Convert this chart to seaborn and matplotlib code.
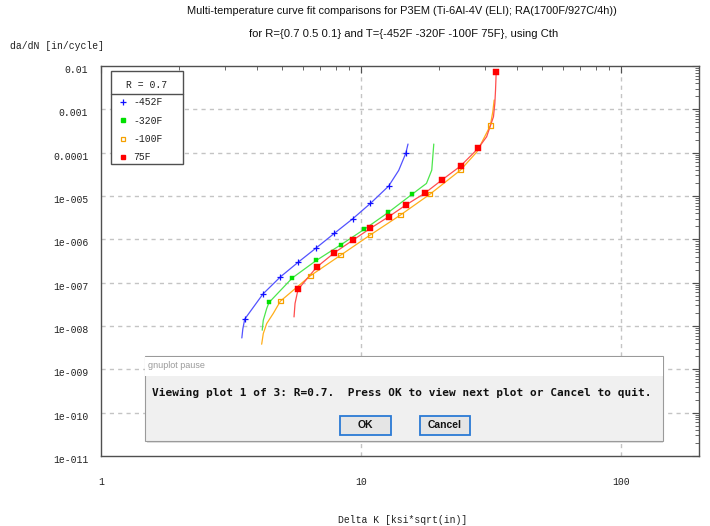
import numpy as np
import pandas as pd
import seaborn as sns
import matplotlib.pyplot as plt
from matplotlib.ticker import LogLocator, NullFormatter, FixedLocator, FixedFormatter
from matplotlib.patches import Rectangle
from matplotlib.lines import Line2D
from matplotlib.transforms import ScaledTranslation

sns.set_theme(style="white")
plt.rcParams['font.family'] = ['Liberation Sans', 'DejaVu Sans']

# --- data: curve fit lines (delta K, da/dN) ---
m452_line_x = [3.49, 3.52, 3.58, 4.21, 4.91, 5.75, 6.75, 7.91, 9.31, 10.9, 12.8, 14.0, 14.9, 15.2]
m452_line_y = [5.3e-9, 8.5e-9, 1.44e-8, 5.5e-8, 1.36e-7, 2.97e-7, 6.37e-7, 1.37e-6, 2.97e-6, 6.75e-6, 1.69e-5, 3.9e-5, 9.6e-5, 1.58e-4]
m320_line_x = [4.18, 4.22, 4.35, 4.44, 5.46, 6.75, 8.38, 10.3, 12.77, 15.8, 17.9, 18.76, 19.1]
m320_line_y = [8.0e-9, 1.36e-8, 2.54e-8, 3.49e-8, 1.29e-7, 3.26e-7, 7.46e-7, 1.69e-6, 4.18e-6, 1.11e-5, 1.95e-5, 3.96e-5, 1.58e-4]
m100_line_x = [4.16, 4.22, 4.35, 4.61, 4.91, 6.40, 8.38, 10.86, 14.2, 18.5, 24.2, 28.0, 31.5, 32.2, 32.6]
m100_line_y = [3.8e-9, 6.7e-9, 1.14e-8, 1.95e-8, 3.74e-8, 1.44e-7, 4.32e-7, 1.25e-6, 3.62e-6, 1.11e-5, 3.96e-5, 1.05e-4, 4.18e-4, 8.7e-4, 1.64e-3]
p75_line_x = [5.54, 5.59, 5.74, 6.77, 7.91, 9.34, 10.89, 12.8, 14.9, 17.6, 20.5, 24.2, 28.3, 30.5, 32.4, 32.8, 33.0, 33.2]
p75_line_y = [1.62e-8, 3.31e-8, 6.97e-8, 2.28e-7, 4.88e-7, 9.6e-7, 1.79e-6, 3.31e-6, 6.17e-6, 1.15e-5, 2.33e-5, 4.9e-5, 1.26e-4, 2.33e-4, 6.75e-4, 1.38e-3, 2.79e-3, 7.4e-3]

# --- point markers along each curve ---
m452_pts_x = [3.58, 4.21, 4.91, 5.75, 6.75, 7.91, 9.31, 10.9, 12.8, 14.9]
m452_pts_y = [1.44e-8, 5.5e-8, 1.36e-7, 2.97e-7, 6.37e-7, 1.37e-6, 2.97e-6, 6.75e-6, 1.69e-5, 9.6e-5]
m320_pts_x = [4.44, 5.46, 6.75, 8.38, 10.3, 12.77, 15.8]
m320_pts_y = [3.49e-8, 1.29e-7, 3.26e-7, 7.46e-7, 1.69e-6, 4.18e-6, 1.11e-5]
m100_pts_x = [4.91, 6.40, 8.38, 10.86, 14.2, 18.5, 24.2, 31.5]
m100_pts_y = [3.74e-8, 1.44e-7, 4.32e-7, 1.25e-6, 3.62e-6, 1.11e-5, 3.96e-5, 4.18e-4]
p75_pts_x = [5.74, 6.77, 7.91, 9.34, 10.89, 12.8, 14.9, 17.6, 20.5, 24.2, 28.3, 33.2]
p75_pts_y = [6.97e-8, 2.28e-7, 4.88e-7, 9.6e-7, 1.79e-6, 3.31e-6, 6.17e-6, 1.15e-5, 2.33e-5, 4.9e-5, 1.26e-4, 7.4e-3]

temps = ["-452F", "-320F", "-100F", "75F"]
x_ticks = [1, 10, 100]
x_ticklabels = ["1", "10", "100"]
y_ticks = [1e-11, 1e-10, 1e-9, 1e-8, 1e-7, 1e-6, 1e-5, 1e-4, 1e-3, 1e-2]
y_ticklabels = ["1e-011", "1e-010", "1e-009", "1e-008", "1e-007", "1e-006",
                "1e-005", "0.0001", "0.001", "0.01"]

series = [
    (m452_line_x, m452_line_y, m452_pts_x, m452_pts_y, "#5252ff", "#1010ff"),
    (m320_line_x, m320_line_y, m320_pts_x, m320_pts_y, "#4ce64c", "#00e000"),
    (m100_line_x, m100_line_y, m100_pts_x, m100_pts_y, "#ffae1a", "#f5a000"),
    (p75_line_x, p75_line_y, p75_pts_x, p75_pts_y, "#ff4d4d", "#ff0000"),
]

W, H = 710, 526
fig = plt.figure(figsize=(7.1, 5.26), dpi=100)
ax = fig.add_axes([100.7 / W, 1 - 456 / H, (699 - 100.7) / W, (456 - 66) / H])
ax.set_xscale("log")
ax.set_yscale("log")
ax.set_xlim(1, 200)
ax.set_ylim(1e-11, 1e-2)

mono = ['Liberation Mono', 'DejaVu Sans Mono']
handles = []
for (lx, ly, px, py, lc, mc), name in zip(series, temps):
    sns.lineplot(x=lx, y=ly, ax=ax, color=lc, linewidth=0.9, sort=False, estimator=None)
    if name == "-452F":
        sns.scatterplot(x=px, y=py, ax=ax, marker="+", color=mc, s=18, linewidth=0.9, zorder=3)
        h = Line2D([], [], ls="none", marker="+", color=mc, ms=4.5, mew=0.9)
    elif name == "-100F":
        sns.scatterplot(x=px, y=py, ax=ax, marker="s", facecolor="none", edgecolor=mc,
                        s=11, linewidth=0.9, zorder=3)
        h = Line2D([], [], ls="none", marker="s", mfc="none", mec=mc, ms=3.3, mew=0.9)
    else:
        size = 12 if name == "-320F" else 15
        sns.scatterplot(x=px, y=py, ax=ax, marker="s", color=mc, edgecolor=mc,
                        s=size, linewidth=0.3, zorder=3)
        h = Line2D([], [], ls="none", marker="s", color=mc, mec=mc, ms=3.5)
    handles.append(h)

# grid and frame
ax.grid(False)
for v in [10, 100]:
    ax.axvline(v, color="#c4c4c4", lw=1.0, ls=(0, (3, 3)), zorder=0)
for v in y_ticks[1:-1]:
    ax.axhline(v, color="#c4c4c4", lw=1.0, ls=(0, (3, 3)), zorder=0)
for sp in ax.spines.values():
    sp.set_color("#505050")
    sp.set_linewidth(1.0)

ax.xaxis.set_major_locator(FixedLocator(x_ticks))
ax.xaxis.set_major_formatter(FixedFormatter(x_ticklabels))
ax.xaxis.set_minor_locator(LogLocator(base=10, subs=np.arange(2, 10)))
ax.xaxis.set_minor_formatter(NullFormatter())
ax.yaxis.set_major_locator(FixedLocator(y_ticks))
ax.yaxis.set_major_formatter(FixedFormatter(y_ticklabels))
ax.yaxis.set_minor_locator(LogLocator(base=10, subs=np.arange(2, 10), numticks=20))
ax.yaxis.set_minor_formatter(NullFormatter())
ax.tick_params(which="both", direction="in", top=True, right=True, color="#505050",
               labelcolor="#222222")
ax.tick_params(which="major", length=5, width=0.8)
ax.tick_params(which="minor", length=3, width=0.6)
ax.tick_params(axis="x", which="major", pad=15, labelsize=7)
ax.tick_params(axis="y", which="major", pad=9, labelsize=7)
for lab in ax.get_xticklabels() + ax.get_yticklabels():
    lab.set_fontfamily(mono)

ax.set_xlabel("Delta K [ksi*sqrt(in)]", fontsize=7, family=mono, color="#222222")
ax.xaxis.set_label_coords(0.505, -0.151)
ax.set_ylabel("da/dN [in/cycle]", fontsize=7, family=mono, color="#222222",
              rotation=0, ha="left", va="center")
ax.yaxis.set_label_coords(-0.152, 1.051)

fig.text(402 / W, 1 - 11 / H, "Multi-temperature curve fit comparisons for P3EM (Ti-6Al-4V (ELI); RA(1700F/927C/4h))",
         ha="center", va="center", fontsize=7.9, color="#111111")
fig.text(404 / W, 1 - 34 / H, "for R={0.7 0.5 0.1} and T={-452F -320F -100F 75F}, using Cth",
         ha="center", va="center", fontsize=8.1, color="#111111")


def fx(px):
    return px / W


def fy(py):
    return 1 - py / H


# legend: entries through matplotlib, box + title drawn like gnuplot's key
leg = ax.legend(handles, temps, loc="upper left",
                bbox_to_anchor=((120 - 100.7) / 598.3, (456 - 97.3) / 390),
                prop={"family": mono, "size": 7}, frameon=False, borderpad=0,
                handlelength=0.6, handletextpad=0.75, labelspacing=0.86, borderaxespad=0)
for t in leg.get_texts():
    t.set_color("#222222")
leg.set_zorder(6)
ax.add_patch(Rectangle((fx(111), fy(164)), fx(183.3) - fx(111), fy(70.7) - fy(164),
                       transform=fig.transFigure, facecolor="white", edgecolor="#505050",
                       lw=1.0, zorder=4, clip_on=False))
ax.add_line(Line2D([fx(111), fx(183.3)], [fy(94.3), fy(94.3)], transform=fig.transFigure,
                   color="#505050", lw=1.0, zorder=5, clip_on=False))
ax.text(fx(147), fy(85.5), "R = 0.7", transform=fig.transFigure, ha="center", va="center",
        fontsize=7, family=mono, color="#222222", zorder=5)

# gnuplot pause dialog overlay
fig.add_artist(Rectangle((fx(147), fy(443)), fx(663) - fx(147), fy(358) - fy(443), transform=fig.transFigure,
                         facecolor="#000000", alpha=0.12, edgecolor="none", zorder=10))
fig.add_artist(Rectangle((fx(144.5), fy(440.5)), fx(663) - fx(144.5), fy(356) - fy(440.5), transform=fig.transFigure,
                         facecolor="#f0f0f0", edgecolor="#9a9a9a", lw=0.8, zorder=11))
fig.add_artist(Rectangle((fx(145), fy(376)), fx(662.5) - fx(145), fy(356.5) - fy(376), transform=fig.transFigure,
                         facecolor="#ffffff", edgecolor="none", zorder=12))
fig.text(fx(148), fy(366), "gnuplot pause", ha="left", va="center", fontsize=6.5, color="#9a9a9a", zorder=13)
fig.text(fx(402), fy(393), "Viewing plot 1 of 3: R=0.7.  Press OK to view next plot or Cancel to quit.",
         ha="center", va="center", fontsize=8.05, family=['DejaVu Sans Mono'], weight="bold",
         color="#111111", zorder=13)
for bx0, bx1, txt in [(340, 391, "OK"), (420, 470, "Cancel")]:
    fig.add_artist(Rectangle((fx(bx0), fy(435)), fx(bx1) - fx(bx0), fy(416) - fy(435), transform=fig.transFigure,
                             facecolor="#e5e5e5", edgecolor="#2a7ad5", lw=1.3, zorder=13))
    fig.text(fx((bx0 + bx1) / 2), fy(425.5), txt, ha="center", va="center", fontsize=7.5,
             weight="bold", color="#111111", zorder=14)

# gnuplot draws y tick labels a little below the tick
fig.canvas.draw()
shift = ScaledTranslation(0, -3 / 100, fig.dpi_scale_trans)
for tk in ax.yaxis.get_major_ticks():
    tk.label1.set_transform(tk.label1.get_transform() + shift)

fig.savefig("out.png", dpi=100)
